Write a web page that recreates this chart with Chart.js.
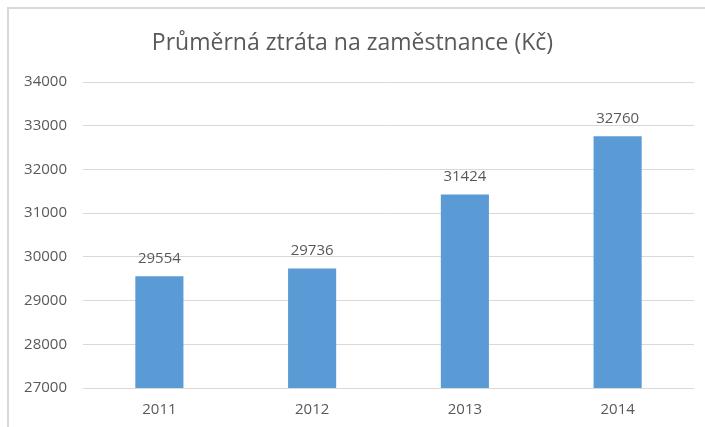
<!DOCTYPE html>
<html>
<head>
<meta charset="utf-8">
<script src="https://cdn.jsdelivr.net/npm/chart.js@4/dist/chart.umd.min.js"></script>
<style>
html,body{margin:0;padding:0;background:#fff;}
canvas{display:block;}
</style>
</head>
<body>
<canvas id="c" width="705" height="427"></canvas>
<script>
const titleText = 'Průměrná ztráta na zaměstnance (Kč)';
const categories = ['2011', '2012', '2013', '2014'];
const values = [29554, 29736, 31424, 32760];
const yMin = 27000, yMax = 34000, yStep = 1000;

const FONT = "'Open Sans', 'Liberation Sans', sans-serif";
const TEXT = '#595959';

const decorPlugin = {
  id: 'decor',
  beforeDraw(chart) {
    const ctx = chart.ctx;
    ctx.save();
    ctx.fillStyle = '#fff';
    ctx.fillRect(0, 0, chart.width, chart.height);
    ctx.strokeStyle = '#D9D9D9';
    ctx.lineWidth = 2;
    ctx.beginPath();
    ctx.moveTo(8, chart.height);
    ctx.lineTo(8, 8);
    ctx.lineTo(chart.width, 8);
    ctx.stroke();
    ctx.fillStyle = TEXT;
    ctx.font = "23px " + FONT;
    ctx.textAlign = 'center';
    ctx.textBaseline = 'middle';
    ctx.fillText(titleText, chart.width / 2, 43);
    ctx.restore();
  },
  afterDatasetsDraw(chart) {
    const ctx = chart.ctx;
    const meta = chart.getDatasetMeta(0);
    ctx.save();
    ctx.fillStyle = TEXT;
    ctx.font = "15px " + FONT;
    ctx.textAlign = 'center';
    ctx.textBaseline = 'bottom';
    meta.data.forEach((bar, i) => {
      ctx.fillText(String(chart.data.datasets[0].data[i]), bar.x, bar.y - 10);
    });
    ctx.restore();
  }
};

new Chart(document.getElementById('c'), {
  type: 'bar',
  data: {
    labels: categories,
    datasets: [{
      data: values,
      backgroundColor: '#5B9BD5',
      borderWidth: 0,
      categoryPercentage: 1,
      barPercentage: 0.315
    }]
  },
  options: {
    responsive: false,
    animation: false,
    devicePixelRatio: 1,
    layout: { padding: { left: 0, right: 11, top: 82, bottom: 0 } },
    plugins: { legend: { display: false }, title: { display: false }, tooltip: { enabled: false } },
    scales: {
      x: {
        grid: { display: false, drawTicks: false },
        border: { display: false },
        ticks: { color: TEXT, font: { family: FONT, size: 15 }, padding: 13 },
        afterFit(s) { s.height = 39; }
      },
      y: {
        min: yMin, max: yMax,
        grid: { color: '#D9D9D9', lineWidth: 1, drawTicks: false },
        border: { display: false },
        ticks: {
          stepSize: yStep,
          color: TEXT,
          font: { family: FONT, size: 15 },
          padding: 16,
          callback: v => String(v)
        },
        afterFit(s) { s.width = 83; }
      }
    }
  },
  plugins: [decorPlugin]
});
</script>
</body>
</html>
